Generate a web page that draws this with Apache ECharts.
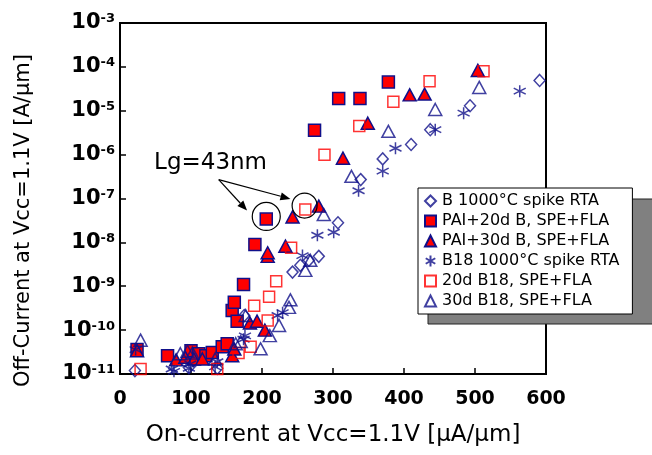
<!DOCTYPE html>
<html>
<head>
<meta charset="utf-8">
<script src="https://cdn.jsdelivr.net/npm/echarts@6/dist/echarts.min.js"></script>
<style>
  html, body { margin: 0; padding: 0; background: #fff; }
  #chart { width: 652px; height: 455px; }
</style>
</head>
<body>
<div id="chart"></div>
<script>
// [on-current uA/um, off-current A/um]
const bRta = [
  [21, 1.2e-11], [97, 1.4e-11], [137, 1.35e-11], [175, 2.15e-10], [243, 2.1e-9],
  [254, 3.0e-9], [266, 3.9e-9], [280, 4.8e-9], [307, 2.8e-8], [339, 2.7e-7],
  [370, 8.0e-7], [410, 1.7e-6], [437, 3.7e-6], [493, 1.3e-5], [591, 4.9e-5]
];
const pai20 = [
  [24, 3.6e-11], [67, 2.6e-11], [100, 3.4e-11], [111, 2.9e-11], [121, 2.6e-11],
  [130, 3.1e-11], [144, 4.2e-11], [151, 4.9e-11], [158, 2.8e-10], [161, 4.3e-10],
  [165, 1.6e-10], [174, 1.1e-9], [190, 9.0e-9], [206, 3.4e-8], [274, 3.6e-6],
  [308, 1.9e-5], [338, 1.9e-5], [378, 4.5e-5]
];
const pai30 = [
  [24, 3.4e-11], [79, 2.1e-11], [92, 2.4e-11], [104, 2.2e-11], [116, 2.2e-11],
  [158, 2.6e-11], [161, 3.7e-11], [183, 1.45e-10], [193, 1.6e-10], [204, 1.0e-10],
  [208, 4.8e-9], [208, 5.8e-9], [233, 8.2e-9], [243, 3.8e-8], [280, 6.7e-8],
  [314, 8.3e-7], [349, 5.2e-6], [408, 2.3e-5], [429, 2.4e-5], [504, 8.3e-5]
];
const b18Rta = [
  [22, 3.6e-11], [73, 1.3e-11], [76, 1.15e-11], [97, 1.35e-11], [99, 1.7e-11],
  [134, 1.45e-11], [137, 1.9e-11], [174, 6.2e-11], [176, 7.4e-11], [222, 2.15e-10],
  [229, 2.5e-10], [257, 5.0e-9], [278, 1.45e-8], [301, 1.7e-8], [336, 1.5e-7],
  [370, 4.2e-7], [388, 1.4e-6], [444, 3.7e-6], [484, 8.8e-6], [563, 2.8e-5]
];
const b18d20 = [
  [29, 1.3e-11], [137, 1.3e-11], [167, 3.0e-11], [184, 4.2e-11], [208, 1.66e-10],
  [189, 3.6e-10], [210, 5.8e-10], [220, 1.3e-9], [241, 7.5e-9], [261, 5.6e-8],
  [288, 1.0e-6], [337, 4.5e-6], [385, 1.6e-5], [436, 4.7e-5], [512, 7.9e-5]
];
const b18d30 = [
  [29, 5.9e-11], [85, 2.9e-11], [95, 3.3e-11], [102, 3.0e-11], [134, 2.2e-11],
  [163, 4.9e-11], [170, 5.5e-11], [177, 2.15e-10], [198, 3.75e-11], [211, 7.5e-11],
  [224, 1.28e-10], [238, 3.3e-10], [240, 4.9e-10], [261, 2.3e-9], [268, 3.9e-9],
  [287, 4.3e-8], [326, 3.2e-7], [378, 3.4e-6], [444, 1.07e-5], [506, 3.4e-5]
];
const seriesNames = [
  "B 1000°C spike RTA",
  "PAI+20d B, SPE+FLA",
  "PAI+30d B, SPE+FLA",
  "B18 1000°C spike RTA",
  "20d B18, SPE+FLA",
  "30d B18, SPE+FLA"
];
const xMin = 0, xMax = 600, xStep = 100;
const yMin = 1e-11, yMax = 1e-3;

// annotation anchors in data space
const lgText = { x: 48, y: 6.3e-7, text: "Lg=43nm" };
const arrowFrom = [139, 2.7e-7];
const arrowTo = [[179, 5.3e-8], [240, 9.8e-8]];
const circled = [[206, 3.9e-8], [260, 6.9e-8]];

const navy = "#10108a";
const red = "#ff0000";
const font = "DejaVu Sans";
const asterisk = "path://M6,0L6,12M0.8,3L11.2,9M0.8,9L11.2,3";

var chartDom = document.getElementById("chart");
var myChart = echarts.init(chartDom);
var option;

option = {
  animation: false,
  backgroundColor: "#fff",
  grid: {
    left: 120, right: 106, top: 23, bottom: 81,
    show: true, borderColor: "#000", borderWidth: 2
  },
  legend: {
    orient: "vertical",
    left: 418, top: 188,
    padding: [3, 13, 3, 6],
    backgroundColor: "#fff",
    borderColor: "#000",
    borderWidth: 1,
    itemWidth: 11, itemHeight: 11,
    itemGap: 0,
    textStyle: { fontFamily: font, fontSize: 16, color: "#000", lineHeight: 20, padding: [0, 0, 0, 1] },
    data: seriesNames,
    z: 10
  },
  xAxis: {
    type: "value",
    min: xMin, max: xMax, interval: xStep,
    name: "On-current at Vcc=1.1V [μA/μm]",
    nameLocation: "middle",
    nameGap: 50,
    nameTextStyle: { fontFamily: font, fontSize: 23, color: "#000" },
    axisLine: { lineStyle: { color: "#000", width: 2 } },
    axisTick: { inside: true, length: 6, lineStyle: { color: "#000", width: 1.5 } },
    axisLabel: { fontFamily: font, fontWeight: "bold", fontSize: 19, color: "#000", margin: 16 },
    splitLine: { show: false }
  },
  yAxis: {
    type: "log",
    logBase: 10,
    min: yMin, max: yMax,
    splitNumber: 8,
    name: "Off-Current at Vcc=1.1V [A/μm]",
    nameLocation: "middle",
    nameGap: 86,
    // right padding pushes the rotated title down, as in the original
    nameTextStyle: { fontFamily: font, fontSize: 21, color: "#000", padding: [0, 44, 0, 0] },
    axisLine: { lineStyle: { color: "#000", width: 2 } },
    axisTick: { inside: true, length: 6, lineStyle: { color: "#000", width: 1.5 } },
    axisLabel: {
      margin: 5,
      formatter: function (v) {
        return "{b|10}{s|" + Math.round(Math.log10(v)) + "}";
      },
      rich: {
        b: { fontFamily: font, fontWeight: "bold", fontSize: 21, color: "#000" },
        s: { fontFamily: font, fontWeight: "bold", fontSize: 13, color: "#000", verticalAlign: "top" }
      }
    },
    splitLine: { show: false }
  },
  series: [
    {
      name: seriesNames[0], type: "scatter", data: bRta,
      symbol: "diamond", symbolSize: [11, 12],
      itemStyle: { color: "rgba(0,0,0,0)", borderColor: navy, borderWidth: 1.5 }
    },
    {
      name: seriesNames[1], type: "scatter", data: pai20,
      symbol: "rect", symbolSize: 12,
      itemStyle: { color: red, borderColor: navy, borderWidth: 1.5, opacity: 1 }
    },
    {
      name: seriesNames[2], type: "scatter", data: pai30,
      symbol: "triangle", symbolSize: [13, 12],
      itemStyle: { color: red, borderColor: navy, borderWidth: 1.5, opacity: 1 }
    },
    {
      name: seriesNames[3], type: "scatter", data: b18Rta,
      symbol: asterisk, symbolSize: 12,
      itemStyle: { color: "rgba(0,0,0,0)", borderColor: navy, borderWidth: 1.5 }
    },
    {
      name: seriesNames[4], type: "scatter", data: b18d20,
      symbol: "rect", symbolSize: 11,
      itemStyle: { color: "rgba(0,0,0,0)", borderColor: red, borderWidth: 1.5 }
    },
    {
      name: seriesNames[5], type: "scatter", data: b18d30,
      symbol: "triangle", symbolSize: [13, 12],
      itemStyle: { color: "rgba(0,0,0,0)", borderColor: navy, borderWidth: 1.5 }
    }
  ]
};

option && myChart.setOption(option);

// annotations placed through the chart's own coordinate system
const px = (p) => myChart.convertToPixel({ gridIndex: 0 }, p);
const graphics = [];

// legend drop shadow
graphics.push({
  type: "rect", z: 1, silent: true,
  shape: { x: 428, y: 199, width: 230, height: 125 },
  style: { fill: "#808080", stroke: "#222", lineWidth: 1 }
});

const t = px([lgText.x, lgText.y]);
graphics.push({
  type: "text", x: t[0], y: t[1], z: 20,
  style: { text: lgText.text, fontFamily: font, fontSize: 23, fill: "#000", textVerticalAlign: "middle" }
});

const s = px(arrowFrom);
arrowTo.forEach(function (p) {
  const e = px(p);
  const ang = Math.atan2(e[1] - s[1], e[0] - s[0]);
  const hl = 10, hw = 4;
  const bx = e[0] - hl * Math.cos(ang), by = e[1] - hl * Math.sin(ang);
  graphics.push({
    type: "line", z: 20,
    shape: { x1: s[0], y1: s[1], x2: bx, y2: by },
    style: { stroke: "#000", lineWidth: 1.2 }
  });
  graphics.push({
    type: "polygon", z: 20,
    shape: { points: [
      [e[0], e[1]],
      [bx + hw * Math.sin(ang), by - hw * Math.cos(ang)],
      [bx - hw * Math.sin(ang), by + hw * Math.cos(ang)]
    ] },
    style: { fill: "#000" }
  });
});

circled.forEach(function (p, i) {
  const c = px(p);
  graphics.push({
    type: "circle", z: 20,
    shape: { cx: c[0], cy: c[1], r: i === 0 ? 14 : 12.5 },
    style: { fill: "none", stroke: "#000", lineWidth: 1.2 }
  });
});

myChart.setOption({ graphic: graphics });
</script>
</body>
</html>
